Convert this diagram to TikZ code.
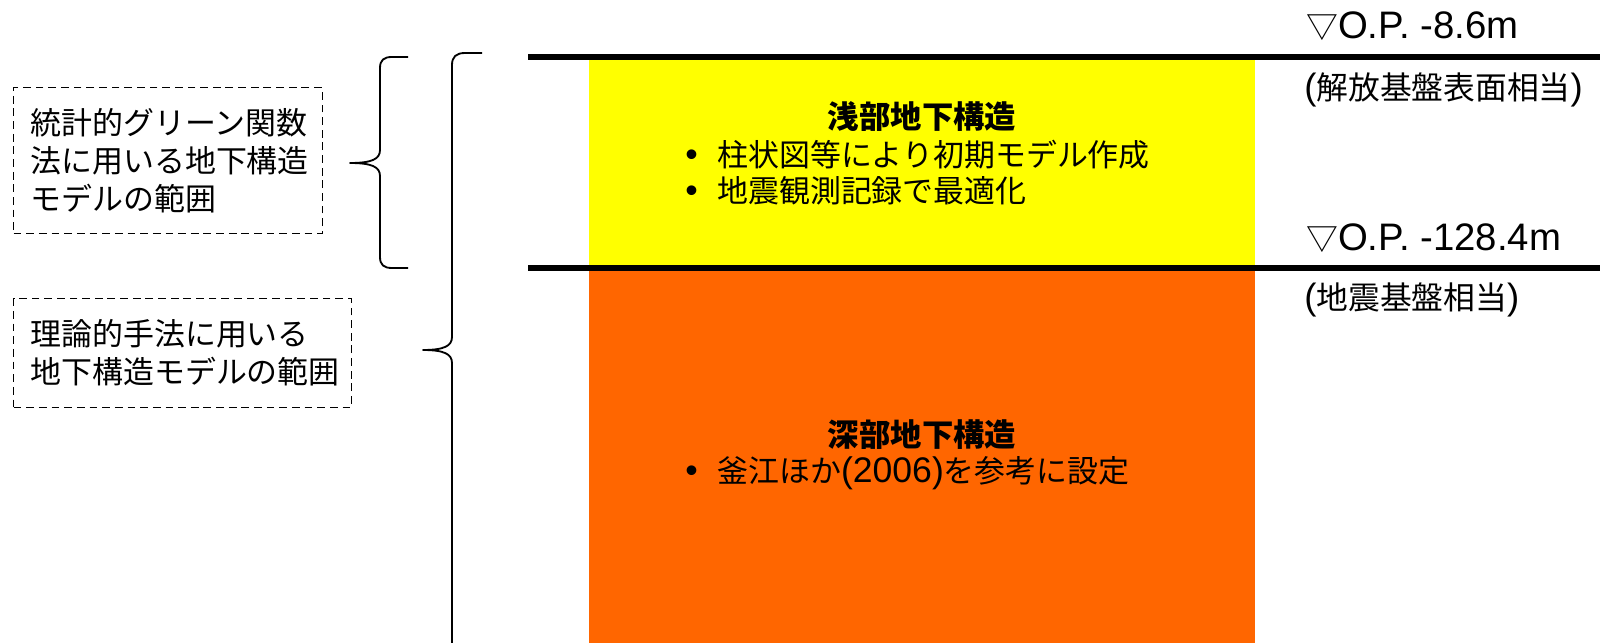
\documentclass[tikz,border=0pt]{standalone}
\usepackage{fontspec}
\setmainfont{Liberation Sans}
\newfontfamily\jp{Noto Sans CJK JP}
\newfontfamily\lat{Liberation Sans}[Scale=1.15]
\usetikzlibrary{positioning}
\definecolor{ink}{HTML}{000000}
\definecolor{shallow}{HTML}{FFFF00}
\definecolor{deep}{HTML}{FF6600}
\tikzset{
  rangebox/.style={draw=ink,dash pattern=on 5.5pt off 3.5pt,line width=0.9pt,align=left,anchor=north west,inner xsep=0.42cm,inner ysep=0pt,font=\jp\fontsize{22}{27}\selectfont},
  brace/.style={line width=1.3pt,draw=ink,line join=round},
  sepline/.style={line width=3.9pt,draw=ink},
  layertitle/.style={font=\jp\bfseries\fontsize{22.3}{26}\selectfont,inner sep=0pt},
  bullitem/.style={font=\jp\fontsize{22}{26}\selectfont,anchor=west,inner sep=0pt},
  depthlab/.style={font=\jp\fontsize{22.6}{26}\selectfont,anchor=west,inner sep=0pt}
}
\newcommand\bul{\makebox[0.8cm][l]{\lat •}}
\newcommand\oplev[1]{{\lat\fontsize{23.7}{26}\selectfont #1}}

\begin{document}
\begin{tikzpicture}[x=0.025cm,y=-0.025cm]
  \useasboundingbox (0,0) rectangle (1600,643);

  % layers
  \fill[shallow] (589,57) rectangle (1255,268);
  \fill[deep] (589,268) rectangle (1255,643);
  \draw[sepline] (528,57) -- (1600,57);
  \draw[sepline] (528,268) -- (1600,268);

  \node[layertitle] (shtitle) at (922,117) {浅部地下構造};
  \node[bullitem] (shitemA) at (685,155) {\bul 柱状図等により初期モデル作成};
  \node[bullitem] (shitemB) at (685,191) {\bul 地震観測記録で最適化};
  \node[layertitle] (dptitle) at (922,435) {深部地下構造};
  \node[bullitem] (dpitem) at (685,473) {\bul 釜江ほか{\lat(2006)}を参考に設定};

  % depths
  \node[depthlab] (opTop) at (1306,26) {▽\oplev{O.P. -8.6m}};
  \node[depthlab] (opTopNote) at (1304,90) {{\lat(}解放基盤表面相当{\lat)}};
  \node[depthlab] (opBot) at (1306,238) {▽\oplev{O.P. -128.4m}};
  \node[depthlab] (opBotNote) at (1304,300) {{\lat(}地震基盤相当{\lat)}};

  % ranges
  \node[rangebox,minimum width=7.72cm,minimum height=3.65cm,text width=6.88cm] (gfbox) at (13,87)
    {統計的グリーン関数\\法に用いる地下構造\\モデルの範囲};
  \node[rangebox,minimum width=8.45cm,minimum height=2.72cm,text width=7.61cm] (thbox) at (13,298)
    {理論的手法に用いる\\地下構造モデルの範囲};

  \draw[brace] (408,57) -- (392,57) .. controls (384,57) and (380,60) .. (380,68) -- (380,150)
    .. controls (380,159) and (372,163) .. (350,163) .. controls (372,163) and (380,167) .. (380,176)
    -- (380,257) .. controls (380,265) and (384,268) .. (392,268) -- (408,268);
  \draw[brace] (482,53) -- (465,53) .. controls (456,53) and (452,57) .. (452,65) -- (452,337)
    .. controls (452,346) and (444,350) .. (423,350) .. controls (444,350) and (452,354) .. (452,363)
    -- (452,645);
\end{tikzpicture}
\end{document}
